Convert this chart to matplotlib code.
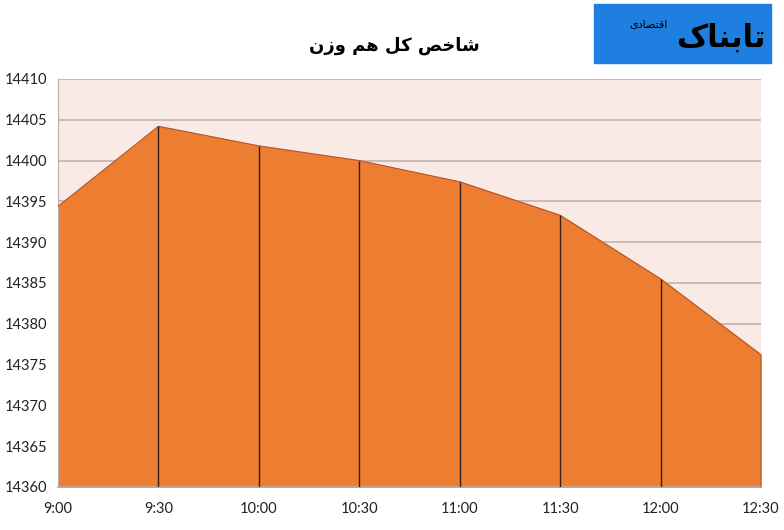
import numpy as np
import matplotlib.pyplot as plt
from matplotlib.patches import Rectangle

# index values
times = ['9:00', '9:30', '10:00', '10:30', '11:00', '11:30', '12:00', '12:30']
index_vals = [14394.4, 14404.2, 14401.8, 14400.0, 14397.4, 14393.3, 14385.5, 14376.2]
y_ticks = [14360, 14365, 14370, 14375, 14380, 14385, 14390, 14395, 14400, 14405, 14410]

# persian text, pre-shaped (presentation forms, visual order)
title = '\uFEE5\uFEAF\uFEED \uFEE2\uFEEB \uFEDE\uFB90 \uFEBA\uFEA7\uFE8E\uFEB7'   # شاخص کل هم وزن
logo_big = '\uFB8E\uFE8E\uFEE8\uFE91\uFE8E\uFE97'            # تابناک
logo_small = '\uFBFC\uFEA9\uFE8E\uFEBC\uFE98\uFED7\uFE8D'    # اقتصادی

x = np.arange(len(times))

fig = plt.figure(figsize=(7.84, 5.30), dpi=100)
ax = fig.add_axes([58/784, 1-487/530, (761-58)/784, (487-79)/530])
ax.set_facecolor('#F9EAE6')

ax.fill_between(x, y_ticks[0], index_vals, color='#ED7D31', zorder=2)
ax.plot(x, index_vals, color='#B5562A', lw=0.8, zorder=3)
ax.vlines(x[1:], y_ticks[0], index_vals[1:], color='#2E211B', lw=1.0, zorder=4)

ax.set_xlim(x[0], x[-1])
ax.set_ylim(y_ticks[0], y_ticks[-1])
ax.set_yticks(y_ticks)
ax.set_yticklabels([str(v) for v in y_ticks])
ax.set_xticks(x)
ax.set_xticklabels(times)
ax.grid(axis='y', color='#BDAFAD', lw=1.1, zorder=1)
ax.set_axisbelow(True)
ax.tick_params(length=0, labelsize=10.5, colors='#222222')
ax.tick_params(axis='y', pad=8)
ax.tick_params(axis='x', pad=11)
for lab in ax.get_xticklabels() + ax.get_yticklabels():
    lab.set_family('Lato')
for s in ['top', 'right']:
    ax.spines[s].set_visible(False)
ax.spines['left'].set_color('#BDAFAD')
ax.spines['bottom'].set_color('#BDAFAD')
ax.spines['bottom'].set_linewidth(1.1)

fig.text(0.503, 1-46/530, title, ha='center', va='center', fontsize=13,
         fontweight='bold', family=['DejaVu Sans'])

# logo box
fig.patches.append(Rectangle((594/784, 1-63/530), (771-594)/784, (63-4)/530,
                             transform=fig.transFigure, color='#1E7FE0', zorder=0))
fig.text(766/784, 1-38/530, logo_big, ha='right', va='center', fontsize=22,
         fontweight='bold', color='black', family=['DejaVu Sans'])
fig.text(668/784, 1-24/530, logo_small, ha='right', va='center', fontsize=8,
         color='black', family=['DejaVu Sans'])

fig.savefig('out.png', dpi=100)
